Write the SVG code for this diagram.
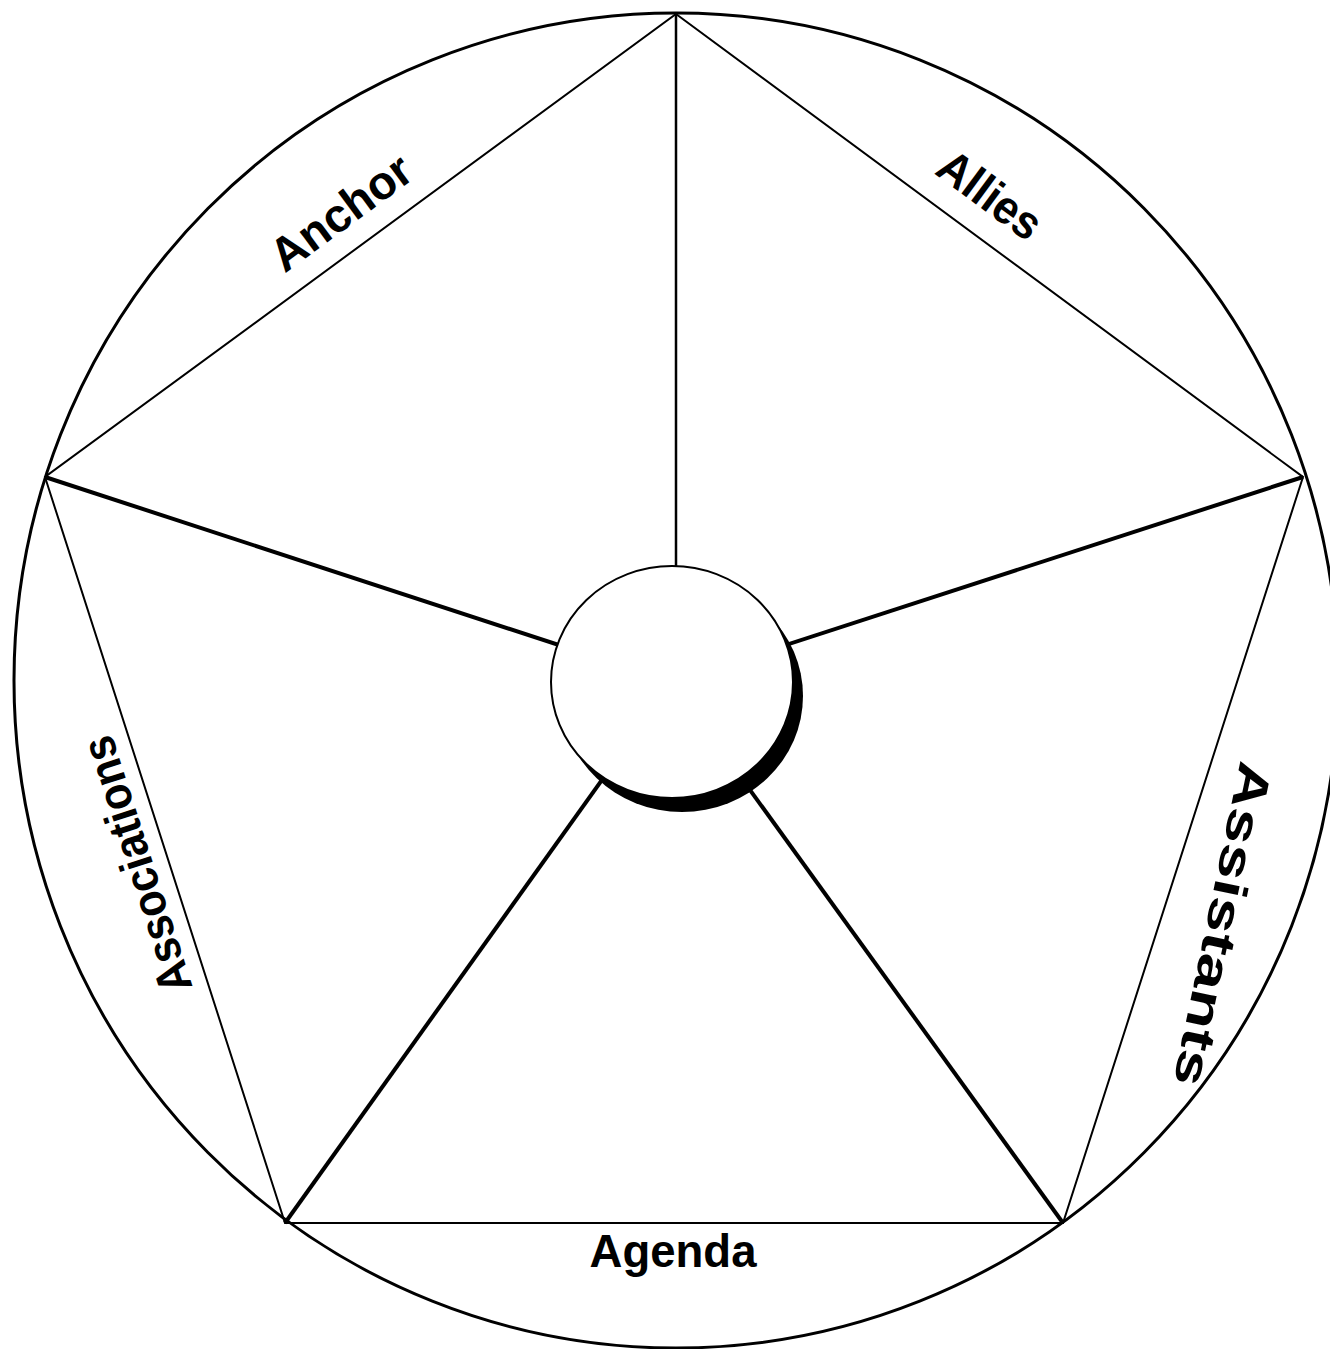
<svg xmlns="http://www.w3.org/2000/svg" width="1330" height="1349" viewBox="0 0 1330 1349">
<style>
.edge{stroke:#000;stroke-width:2;fill:none}
.spoke{stroke:#000;stroke-width:4;fill:none}
.lbl{font-family:"Liberation Sans",Arial,sans-serif;font-weight:bold;font-size:47px;fill:#000;text-anchor:middle}
</style>
<rect width="1330" height="1349" fill="#fff"/>
<g id="outer"><ellipse cx="676" cy="680.5" rx="662" ry="667.5" fill="none" stroke="#000" stroke-width="3"/></g>
<g id="connectors">
<polygon class="edge" points="676,14 1303,477 1063,1223 285,1223 45,477"/>
<line class="edge" x1="676" y1="14" x2="676" y2="600" style="stroke-width:2.5"/>
<line class="spoke" x1="1303" y1="477" x2="672" y2="682"/>
<line class="spoke" x1="45" y1="477" x2="672" y2="682"/>
<line class="spoke" x1="285" y1="1223" x2="672" y2="682"/>
<line class="spoke" x1="1063" y1="1223" x2="672" y2="682"/>
</g>
<g id="hub">
<ellipse cx="682" cy="696" rx="121" ry="116" fill="#000"/>
<ellipse cx="672" cy="682" rx="121" ry="116" fill="#fff" stroke="#000" stroke-width="2"/>
</g>
<g id="anchor"><text class="lbl" transform="translate(350.4,225.5) rotate(-36.3)" textLength="163" lengthAdjust="spacingAndGlyphs">Anchor</text></g>
<g id="allies"><text class="lbl" transform="translate(980.5,207.7) rotate(36.4)" textLength="117" lengthAdjust="spacingAndGlyphs">Allies</text></g>
<g id="assistants"><text class="lbl" transform="translate(1207,921) rotate(101.8)" textLength="330" lengthAdjust="spacingAndGlyphs">Assistants</text></g>
<g id="associations"><text class="lbl" transform="translate(152,860) rotate(-107.8)" textLength="267" lengthAdjust="spacingAndGlyphs">Associations</text></g>
<g id="agenda"><text class="lbl" x="673" y="1267" textLength="167" lengthAdjust="spacingAndGlyphs">Agenda</text></g>
</svg>
